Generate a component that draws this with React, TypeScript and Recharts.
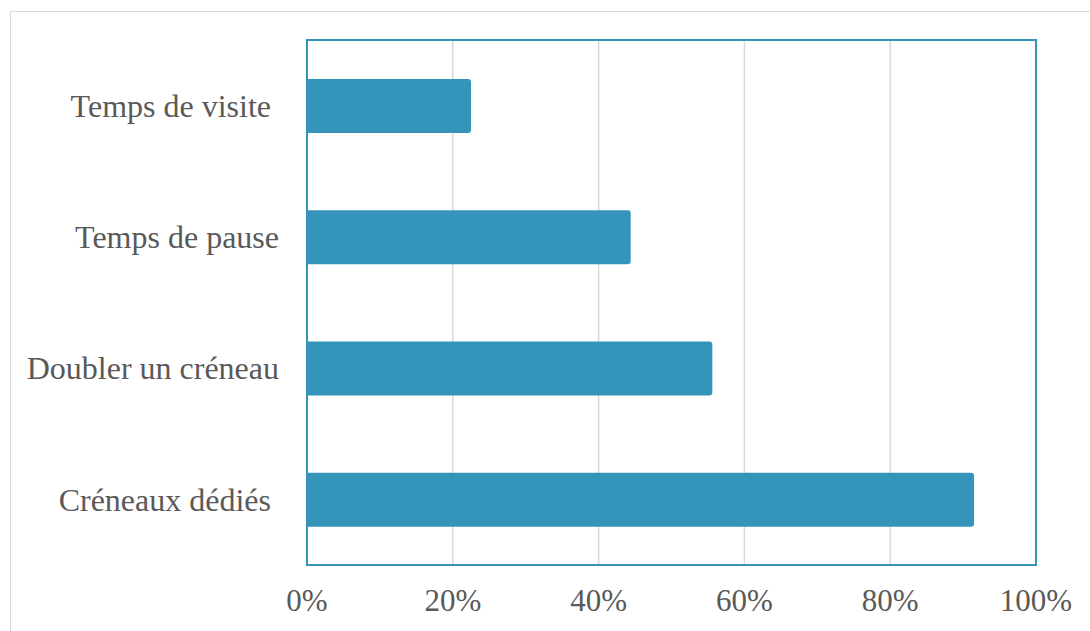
import { BarChart, Bar, XAxis, YAxis, CartesianGrid, ReferenceArea } from 'recharts';

const categories = ['Temps de visite ', 'Temps de pause', 'Doubler un créneau', 'Créneaux dédiés '];
const shares = [0.225, 0.444, 0.556, 0.915];
const xTicks = [0, 0.2, 0.4, 0.6, 0.8, 1];

const data = categories.map((name, i) => ({ name, value: shares[i] }));

const FONT = "'Liberation Serif', 'Times New Roman', Times, serif";
const TEXT = '#595959';
const BLUE = '#3494BA';

const CategoryTick = (props: any) => {
  const { x, y, payload } = props;
  return (
    <text x={x} y={y} dy="0.355em" textAnchor="end" fill={TEXT} style={{ whiteSpace: 'pre', fontFamily: FONT, fontSize: 32 }}>
      {payload.value}
    </text>
  );
};

const PercentTick = (props: any) => {
  const { x, y, payload } = props;
  return (
    <text x={x} y={y} dy="0.71em" textAnchor="middle" fill={TEXT} style={{ fontFamily: FONT, fontSize: 31 }}>
      {`${Math.round(payload.value * 100)}%`}
    </text>
  );
};

export default function App() {
  return (
    <div style={{ position: 'absolute', left: 0, top: 0, width: 1090, height: 631, overflow: 'hidden', background: '#fff', fontFamily: FONT }}>
      {/* outer frame */}
      <div style={{ position: 'absolute', left: 10, top: 11, width: 1200, height: 800, border: '1px solid #d9d9d9' }} />
      <div style={{ position: 'absolute', left: 0, top: 0 }}>
        <BarChart
          width={1090}
          height={631}
          data={data}
          layout="vertical"
          margin={{ top: 40, right: 54, bottom: 16, left: 7 }}
          barCategoryGap={0}
        >
          <CartesianGrid horizontal={false} stroke="#d9d9d9" strokeWidth={1.5} />
          <XAxis
            type="number"
            domain={[0, 1]}
            ticks={xTicks}
            axisLine={false}
            tickLine={false}
            tickSize={0}
            tickMargin={24}
            height={50}
            interval={0}
            tick={<PercentTick />}
          />
          <YAxis
            type="category"
            dataKey="name"
            width={300}
            axisLine={false}
            tickLine={false}
            tickSize={0}
            tickMargin={28}
            tick={<CategoryTick />}
          />
          <Bar dataKey="value" fill={BLUE} barSize={54} radius={[0, 3, 3, 0]} isAnimationActive={false} />
          <ReferenceArea x1={0} x2={1} fill="none" stroke={BLUE} strokeWidth={2} ifOverflow="visible" />
        </BarChart>
      </div>
    </div>
  );
}
